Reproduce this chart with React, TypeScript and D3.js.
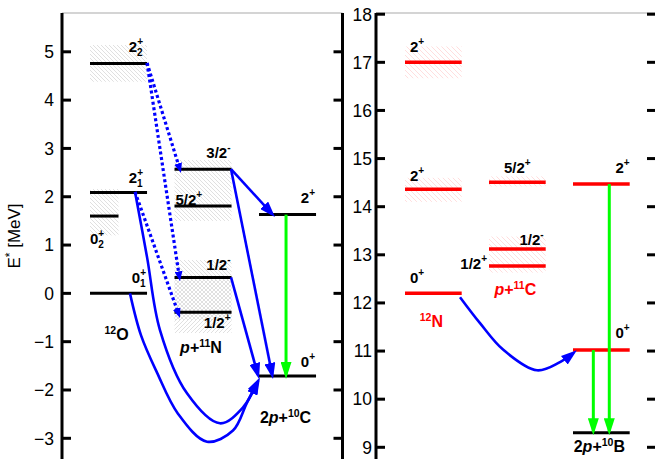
import React from "react";
import * as d3 from "d3";

// ---------- data ----------
const leftTicks = [-3, -2, -1, 0, 1, 2, 3, 4, 5];
const rightTicks = [9, 10, 11, 12, 13, 14, 15, 16, 17, 18];

// left panel: columns 0 = 12O, 1 = p+11N, 2 = 2p+10C  (E* in MeV)
const leftLevels = [
  { id: "O22", col: 0, E: 4.76, spin: "2", par: "+", sub: "2" },
  { id: "O21", col: 0, E: 2.09, spin: "2", par: "+", sub: "1" },
  { id: "O02", col: 0, E: 1.6, spin: "0", par: "+", sub: "2" },
  { id: "O01", col: 0, E: 0.0, spin: "0", par: "+", sub: "1" },
  { id: "N32", col: 1, E: 2.57, spin: "3/2", par: "-" },
  { id: "N52", col: 1, E: 1.81, spin: "5/2", par: "+" },
  { id: "N12m", col: 1, E: 0.33, spin: "1/2", par: "-" },
  { id: "N12p", col: 1, E: -0.39, spin: "1/2", par: "+" },
  { id: "C2", col: 2, E: 1.63, spin: "2", par: "+" },
  { id: "C0", col: 2, E: -1.71, spin: "0", par: "+" },
];
const leftWidths = [
  { id: "O22", lo: 4.38, hi: 5.14 },
  { id: "O02", lo: 1.2, hi: 2.16 },
  { id: "N32", lo: 2.2, hi: 2.76 },
  { id: "N52", lo: 1.5, hi: 2.2 },
  { id: "N12m", lo: -0.55, hi: 0.69 },
  { id: "N12p", lo: -0.82, hi: 0.28 },
];
// right panel: columns 0 = 12N, 1 = p+11C, 2 = 2p+10B
const rightLevels = [
  { id: "RN17", col: 0, E: 17.0, spin: "2", par: "+" },
  { id: "RN14", col: 0, E: 14.36, spin: "2", par: "+" },
  { id: "RN12", col: 0, E: 12.2, spin: "0", par: "+" },
  { id: "RC52", col: 1, E: 14.51, spin: "5/2", par: "+" },
  { id: "RC12m", col: 1, E: 13.12, spin: "1/2", par: "-" },
  { id: "RC12p", col: 1, E: 12.77, spin: "1/2", par: "+" },
  { id: "RB2", col: 2, E: 14.47, spin: "2", par: "+" },
  { id: "RB0", col: 2, E: 11.02, spin: "0", par: "+" },
  { id: "RB9", col: 2, E: 9.3, spin: "", par: "" },
];
const rightWidths = [
  { id: "RN17", lo: 16.67, hi: 17.33 },
  { id: "RN14", lo: 14.1, hi: 14.6 },
  { id: "RC52", lo: 14.42, hi: 14.63 },
  { id: "RC12m", lo: 12.63, hi: 13.38 },
];
// transitions: points as [column units, E*]
const leftDotted = [
  [[0.675, 4.77], [1.077, 2.49]],
  [[0.675, 4.77], [1.065, 0.25]],
  [[0.533, 2.1], [1.065, -0.51]],
];
const leftSolid = [
  [[1.669, 2.57], [2.189, 1.58]],
  [[1.669, 2.57], [2.166, -1.77]],
  [[1.669, 0.33], [2.0, -1.77]],
  [[0.533, 2.1], [0.675, 0.75], [0.828, -0.76], [1.148, -2.07], [1.538, -2.69], [1.811, -2.36], [2.0, -1.77]],
  [[0.473, 0.0], [0.604, -0.87], [0.793, -1.64], [1.041, -2.49], [1.385, -3.07], [1.692, -2.84], [1.858, -2.26], [2.012, -1.74]],
];
const leftGamma = [[[2.32, 1.63], [2.32, -1.77]]];
const rightSolid = [
  [[0.655, 12.12], [0.893, 11.58], [1.167, 11.03], [1.571, 10.6], [1.845, 10.77], [2.048, 11.01]],
];
const rightGamma = [
  [[2.432, 14.47], [2.432, 9.25]],
  [[2.242, 11.02], [2.242, 9.25]],
];
const leftGroups = [
  { col: 0, E: -0.97, pre: "", it: "", sup: "12", el: "O" },
  { col: 1, E: -1.24, pre: "", it: "p", sup: "11", el: "N" },
  { col: 2, E: -2.68, pre: "2", it: "p", sup: "10", el: "C" },
];
const rightGroups = [
  { col: 0, E: 11.5, pre: "", it: "", sup: "12", el: "N" },
  { col: 1, E: 12.17, pre: "", it: "p", sup: "11", el: "C" },
  { col: 2, E: 8.9, pre: "2", it: "p", sup: "10", el: "B" },
];

// ---------- layout / style ----------
const FONT = "'Liberation Sans', Arial, Helvetica, sans-serif";
const BLUE = "#0000ff";
const GREEN = "#00ff00";
const RED = "#ff0000";
const COLW = 0.675;
const lineFrac: Record<string, number> = { O02: 0.5 };
const hatchDir: Record<string, string> = { N12p: "f" };
const blackIds = new Set(["RB9"]);
const redGroups = new Set(["N", "C"]);
const labelLayout: Record<string, { at: string; dx: number; dy: number }> = {
  O22: { at: "end", dx: -4, dy: -11 },
  O21: { at: "end", dx: -4, dy: -9 },
  O02: { at: "start", dx: 0, dy: 28 },
  O01: { at: "end", dx: -1, dy: -10 },
  N32: { at: "end", dx: -1, dy: -11 },
  N52: { at: "start", dx: 1, dy: -1 },
  N12m: { at: "end", dx: -1, dy: -7 },
  N12p: { at: "end", dx: -1, dy: 16 },
  C2: { at: "end", dx: -1, dy: -12 },
  C0: { at: "end", dx: -1, dy: -9 },
  RN17: { at: "start", dx: 5, dy: -10 },
  RN14: { at: "start", dx: 5, dy: -8 },
  RN12: { at: "start", dx: 5, dy: -10 },
  RC52: { at: "middle", dx: 0, dy: -9 },
  RC12m: { at: "end", dx: -2, dy: -4 },
  RC12p: { at: "left", dx: -2, dy: 3 },
  RB2: { at: "end", dx: 0, dy: -11 },
  RB0: { at: "end", dx: 0, dy: -12 },
};

type Pt = [number, number];

function arrowD(pts: Pt[], trim: number) {
  const n = pts.length;
  const [xa, ya] = pts[n - 2];
  const [xb, yb] = pts[n - 1];
  const d = Math.hypot(xb - xa, yb - ya);
  const p = pts.slice();
  p[n - 1] = [xb - ((xb - xa) / d) * trim, yb - ((yb - ya) / d) * trim];
  const gen = d3
    .line<Pt>()
    .x((q) => q[0])
    .y((q) => q[1])
    .curve(n > 2 ? d3.curveCatmullRom.alpha(0.5) : d3.curveLinear);
  return gen(p) || "";
}

function Marker({ id, L, W, fill }: { id: string; L: number; W: number; fill: string }) {
  return (
    <marker
      id={id}
      markerUnits="userSpaceOnUse"
      markerWidth={L}
      markerHeight={W}
      viewBox={`0 0 ${L} ${W}`}
      refX={L - 4}
      refY={W / 2}
      orient="auto"
    >
      <path d={`M0,0L${L},${W / 2}L0,${W}z`} fill={fill} />
    </marker>
  );
}

function Hatch({ id, s, color, dir }: { id: string; s: number; color: string; dir: string }) {
  const d =
    dir === "b"
      ? `M-1,-1L${s + 1},${s + 1}M${s - 1},-1L${s + 1},1M-1,${s - 1}L1,${s + 1}`
      : `M-1,${s + 1}L${s + 1},-1M-1,1L1,-1M${s - 1},${s + 1}L${s + 1},${s - 1}`;
  return (
    <pattern id={id} patternUnits="userSpaceOnUse" width={s} height={s}>
      <path d={d} stroke={color} strokeWidth={0.7} fill="none" />
    </pattern>
  );
}

function SpinLabel({ x, y, anchor, spin, par, sub, fill }: any) {
  return (
    <text x={x} y={y} textAnchor={anchor} fontWeight="bold" fontSize={15} fill={fill} fontFamily={FONT}>
      {spin}
      {par && (
        <tspan dy={-7} fontSize={10}>
          {par}
        </tspan>
      )}
      {sub && (
        <tspan dx={-6} dy={11} fontSize={10}>
          {sub}
        </tspan>
      )}
    </text>
  );
}

export default function App() {
  const W = 655;
  const H = 459;
  const xL = d3.scaleLinear().domain([0, 3]).range([90, 343.5]);
  const xR = d3.scaleLinear().domain([0, 3]).range([405, 657]);
  const yL = d3.scaleLinear().domain([-3, 5]).range([438.3, 51.8]);
  const yR = d3.scaleLinear().domain([9, 18]).range([447.3, 14.2]);
  const fmt = d3.format("d");

  const AX = { l1: 62, r1: 342.5, l2: 376, r2: 655, top: 13 };

  const renderLevels = (levels: any[], x: any, y: any, right: boolean) =>
    levels.map((lv) => {
      const frac = lineFrac[lv.id] ?? 1;
      const x0 = x(lv.col);
      const x1 = x(lv.col + COLW * frac);
      const yy = y(lv.E);
      const isRed = right && !blackIds.has(lv.id);
      const col = isRed ? RED : "#000";
      const lay = labelLayout[lv.id];
      let lx = x1,
        anchor = "end";
      if (lay) {
        if (lay.at === "start") {
          lx = x0 + lay.dx;
          anchor = "start";
        } else if (lay.at === "end") {
          lx = x1 + lay.dx;
          anchor = "end";
        } else if (lay.at === "middle") {
          lx = (x0 + x1) / 2 + lay.dx;
          anchor = "middle";
        } else {
          lx = x0 + lay.dx;
          anchor = "end";
        }
      }
      return (
        <g key={lv.id}>
          <line x1={x0} x2={x1} y1={yy} y2={yy} stroke={col} strokeWidth={isRed ? 3.5 : 3} />
          {lay && lv.spin && (
            <SpinLabel x={lx} y={yy + lay.dy} anchor={anchor} spin={lv.spin} par={lv.par} sub={lv.sub} fill="#000" />
          )}
        </g>
      );
    });

  const renderHatches = (widths: any[], levels: any[], x: any, y: any, pref: string) =>
    widths.map((h, i) => {
      const lv = levels.find((l) => l.id === h.id);
      const frac = lineFrac[h.id] ?? 1;
      const x0 = x(lv.col);
      const x1 = x(lv.col + COLW * frac);
      const dir = hatchDir[h.id] ?? "b";
      return (
        <rect
          key={i}
          x={x0}
          width={x1 - x0}
          y={y(h.hi)}
          height={y(h.lo) - y(h.hi)}
          fill={`url(#${pref}${dir})`}
        />
      );
    });

  const toPx = (pts: number[][], x: any, y: any): Pt[] => pts.map((p) => [x(p[0]), y(p[1])] as Pt);

  const renderGroup = (g: any, x: any, y: any, i: number, right: boolean) => {
    const cx = x(g.col + COLW / 2) - 2;
    const fill = right && redGroups.has(g.el) ? RED : "#000";
    return (
      <text key={i} x={cx} y={y(g.E)} textAnchor="middle" fontWeight="bold" fontSize={16} fill={fill} fontFamily={FONT}>
        {g.pre}
        {g.it && <tspan fontStyle="italic">{g.it}</tspan>}
        {g.it && "+"}
        <tspan dy={-6} fontSize={10.5}>
          {g.sup}
        </tspan>
        <tspan dy={6}>{g.el}</tspan>
      </text>
    );
  };

  return (
    <svg width={W} height={H} style={{ position: "absolute", left: 0, top: 0, background: "#fff" }} fontFamily={FONT}>
      <defs>
        <Hatch id="hgb" s={4} color="#d2d2d2" dir="b" />
        <Hatch id="hgf" s={4} color="#d2d2d2" dir="f" />
        <Hatch id="hrb" s={5} color="#ffd0d0" dir="b" />
        <Hatch id="hrf" s={5} color="#ffd0d0" dir="f" />
        <Marker id="abig" L={16} W={11} fill={BLUE} />
        <Marker id="asmall" L={10} W={8} fill={BLUE} />
        <Marker id="agreen" L={17} W={11} fill={GREEN} />
      </defs>

      {/* frame top */}
      <line x1={AX.l1} x2={AX.r1} y1={AX.top} y2={AX.top} stroke="#aaa" strokeWidth={1.2} />
      <line x1={AX.l2} x2={AX.r2} y1={AX.top} y2={AX.top} stroke="#aaa" strokeWidth={1.2} />

      {/* hatches */}
      {renderHatches(leftWidths, leftLevels, xL, yL, "hg")}
      {renderHatches(rightWidths, rightLevels, xR, yR, "hr")}

      {/* axes */}
      <line x1={AX.l1} x2={AX.l1} y1={AX.top} y2={H} stroke="#000" strokeWidth={3} />
      <line x1={AX.r1} x2={AX.r1} y1={AX.top} y2={H} stroke="#000" strokeWidth={3} />
      <line x1={AX.l2} x2={AX.l2} y1={AX.top} y2={H} stroke="#000" strokeWidth={3} />
      {leftTicks.map((t) => (
        <g key={"lt" + t}>
          <line x1={AX.l1} x2={AX.l1 + 9} y1={yL(t)} y2={yL(t)} stroke="#000" strokeWidth={3} />
          <line x1={AX.r1 - 9} x2={AX.r1} y1={yL(t)} y2={yL(t)} stroke="#000" strokeWidth={3} />
          <text x={54} y={yL(t)} dy="0.36em" textAnchor="end" fontSize={17.5}>
            {fmt(t)}
          </text>
        </g>
      ))}
      {rightTicks.map((t) => (
        <g key={"rt" + t}>
          <line x1={AX.l2} x2={AX.l2 + 9} y1={yR(t)} y2={yR(t)} stroke="#000" strokeWidth={3} />
          <line x1={AX.r2 - 8} x2={AX.r2} y1={yR(t)} y2={yR(t)} stroke="#000" strokeWidth={3} />
          <text x={372} y={yR(t)} dy="0.36em" textAnchor="end" fontSize={17.5}>
            {fmt(t)}
          </text>
        </g>
      ))}
      <text transform="translate(20,236) rotate(-90)" textAnchor="middle" fontSize={17}>
        E
        <tspan dy={-6} fontSize={12}>
          *
        </tspan>
        <tspan dy={6}> [MeV]</tspan>
      </text>

      {/* levels */}
      {renderLevels(leftLevels, xL, yL, false)}
      {renderLevels(rightLevels, xR, yR, true)}

      {/* transitions */}
      {leftDotted.map((p, i) => (
        <path
          key={"ld" + i}
          d={arrowD(toPx(p, xL, yL), 4)}
          fill="none"
          stroke={BLUE}
          strokeWidth={3.2}
          strokeDasharray="3 2.6"
          markerEnd="url(#asmall)"
        />
      ))}
      {leftSolid.map((p, i) => (
        <path key={"ls" + i} d={arrowD(toPx(p, xL, yL), 4)} fill="none" stroke={BLUE} strokeWidth={2.6} markerEnd="url(#abig)" />
      ))}
      {rightSolid.map((p, i) => (
        <path key={"rs" + i} d={arrowD(toPx(p, xR, yR), 4)} fill="none" stroke={BLUE} strokeWidth={2.6} markerEnd="url(#abig)" />
      ))}
      {leftGamma.map((p, i) => (
        <path key={"lg" + i} d={arrowD(toPx(p, xL, yL), 4)} fill="none" stroke={GREEN} strokeWidth={3} markerEnd="url(#agreen)" />
      ))}
      {rightGamma.map((p, i) => (
        <path key={"rg" + i} d={arrowD(toPx(p, xR, yR), 4)} fill="none" stroke={GREEN} strokeWidth={3} markerEnd="url(#agreen)" />
      ))}

      {/* group labels */}
      {leftGroups.map((g, i) => renderGroup(g, xL, yL, i, false))}
      {rightGroups.map((g, i) => renderGroup(g, xR, yR, i, true))}
    </svg>
  );
}
